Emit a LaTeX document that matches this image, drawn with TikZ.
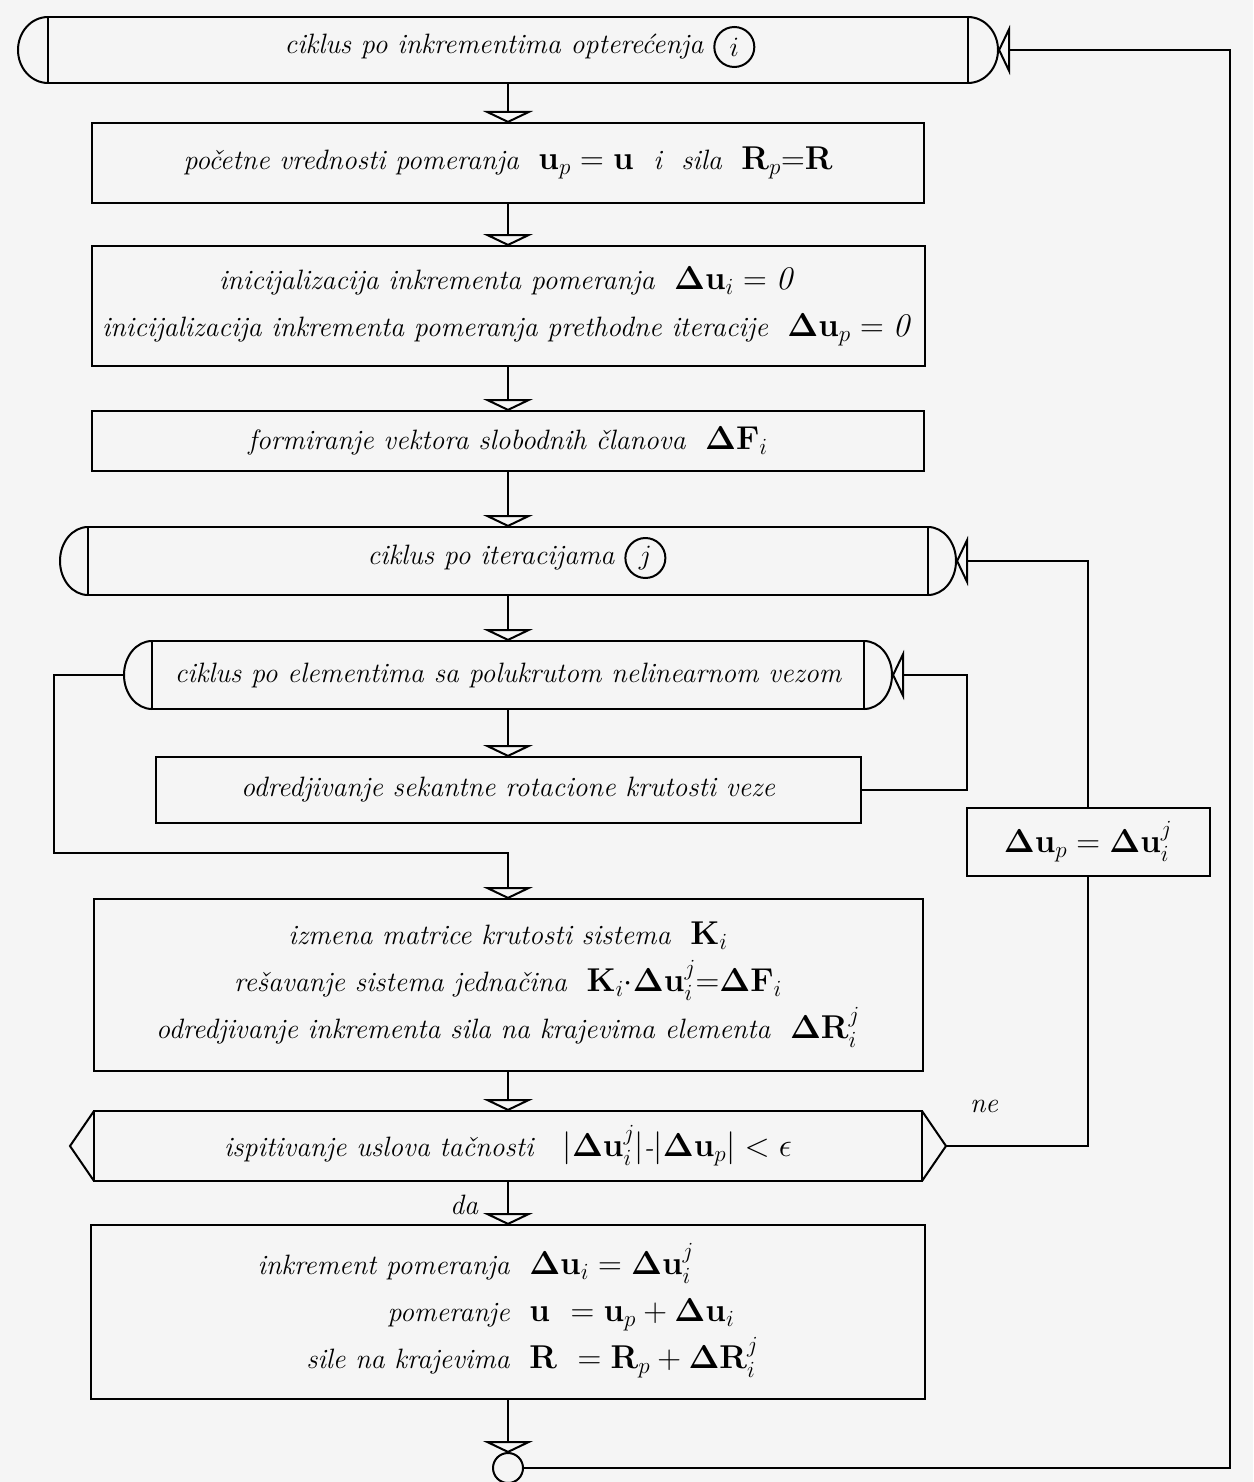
\RequirePackage{fix-cm}
\documentclass[tikz,border=0pt]{standalone}
\usepackage{amsmath,amssymb}
\usepackage{tikz}
\usetikzlibrary{positioning,arrows.meta,calc}

\newcommand{\dU}{\mathbf{\Delta u}}
\newcommand{\mth}[1]{{\fontsize{33}{47}\selectfont$#1$}}
\newcommand{\roundcaps}[3]{%
  \draw (#1.north west) arc[start angle=90, end angle=270, x radius=#2, y radius=#3];
  \draw (#1.north east) arc[start angle=90, end angle=-90, x radius=#2, y radius=#3];}
\newcommand{\pointcaps}[3]{%
  \draw (#1.north west) -- ++(-#2,#3) -- (#1.south west);
  \draw (#1.north east) -- ++(#2,#3) -- (#1.south east);}

\begin{document}
\begin{tikzpicture}[x=1pt, y=-1pt, line width=2pt,
  flow/.style={-{Triangle[open, width=50pt, length=12pt]}},
  box/.style={draw, inner sep=0pt, outer sep=0pt, align=center, font=\fontsize{28}{47}\selectfont\itshape},
  txt/.style={inner sep=0pt, font=\fontsize{28}{47}\selectfont\itshape},
  ring/.style={circle, draw, inner sep=0pt, outer sep=0pt, minimum size=40pt, font=\fontsize{28}{47}\selectfont}]
  \fill[black!4] (0,0) rectangle (1253,1482);
  \useasboundingbox (0,0) rectangle (1253,1482);

  \node[box, minimum width=920pt, minimum height=66pt] (loopi) at (508,50) {};
  \node[box, minimum width=832pt, minimum height=80pt, below=40pt of loopi] (init)
    {početne vrednosti pomeranja \ \mth{\mathbf{u}_p = \mathbf{u}} \ i \ sila \ \mth{\mathbf{R}_p{=}\mathbf{R}}};
  \node[box, minimum width=833pt, minimum height=120pt, below=43pt of init] (zero)
    {inicijalizacija inkrementa pomeranja \ \mth{\dU_i = \mathit{0}}\\
     inicijalizacija inkrementa pomeranja prethodne iteracije \ \mth{\dU_p = \mathit{0}}};
  \node[box, minimum width=832pt, minimum height=60pt, below=45pt of zero] (load)
    {formiranje vektora slobodnih članova \ \mth{\mathbf{\Delta F}_i}};
  \node[box, minimum width=840pt, minimum height=68pt, below=56pt of load] (loopj) {};
  \node[box, minimum width=712pt, minimum height=68pt, below=46pt of loopj] (loope)
    {ciklus po elementima sa polukrutom nelinearnom vezom};
  \node[box, minimum width=705pt, minimum height=66pt, below=48pt of loope] (secant)
    {odredjivanje sekantne rotacione krutosti veze};
  \node[box, minimum width=829pt, minimum height=172pt, below=76pt of secant] (solve)
    {izmena matrice krutosti sistema \ \mth{\mathbf{K}_i}\\
     rešavanje sistema jednačina \ \mth{\mathbf{K}_i{\cdot}\dU_i^j{=}\mathbf{\Delta F}_i}\\
     odredjivanje inkrementa sila na krajevima elementa \ \mth{\mathbf{\Delta R}_i^j}};
  \node[box, minimum width=828pt, minimum height=70pt, below=40pt of solve] (test)
    {ispitivanje uslova tačnosti \ \ \mth{|\dU_i^j|}-\mth{|\dU_p| < \epsilon}};
  \node[box, minimum width=834pt, minimum height=174pt, below=44pt of test] (update)
    {\begin{tabular}{r@{\ \ }l}
     inkrement pomeranja & \mth{\dU_i = \dU_i^j}\\
     pomeranje & \mth{\mathbf{u} \ = \mathbf{u}_p + \dU_i}\\
     sile na krajevima & \mth{\mathbf{R} \ = \mathbf{R}_p + \mathbf{\Delta R}_i^j}
     \end{tabular}};
  \node[ring, minimum size=30pt, below=54pt of update] (conn) {};
  \node[box, minimum width=243pt, minimum height=68pt] (dup) at (1088,842)
    {\mth{\dU_p = \dU_i^j}};

  \node[txt] (ti) at ($(loopi)+(-14,-3)$) {ciklus po inkrementima opterećenja};
  \node[ring, right=10pt of ti] (ci) {$i$};
  \node[txt] (tj) at ($(loopj)+(-17,-3)$) {ciklus po iteracijama};
  \node[ring, right=10pt of tj] (cj) {$j$};

  \roundcaps{loopi}{30pt}{33pt}
  \roundcaps{loopj}{28pt}{34pt}
  \roundcaps{loope}{28pt}{34pt}
  \pointcaps{test}{24}{35}
  \coordinate (loopi-in) at ($(loopi.east)+(30,0)$);
  \coordinate (loopj-in) at ($(loopj.east)+(28,0)$);
  \coordinate (loope-in) at ($(loope.east)+(28,0)$);
  \coordinate (loope-out) at ($(loope.west)+(-28,0)$);
  \coordinate (test-no) at ($(test.east)+(24,0)$);
  \coordinate (join) at ($(solve.north)+(0,-46)$);

  \node[txt] (ne) at ($(test-no)+(38,-40)$) {ne};
  \node[txt] (da) at ($(test.south)+(-44,24)$) {da};

  \draw[flow] (loopi) -- (init);
  \draw[flow] (init) -- (zero);
  \draw[flow] (zero) -- (load);
  \draw[flow] (load) -- (loopj);
  \draw[flow] (loopj) -- (loope);
  \draw[flow] (loope) -- (secant);
  \draw[flow] (secant.east) -- ++(106,0) |- (loope-in);
  \draw[flow] (loope-out) -- ++(-70,0) |- (join) -- (solve);
  \draw[flow] (solve) -- (test);
  \draw[flow] (test) -- (update);
  \draw (test-no) -| (dup.south);
  \draw[flow] (dup.north) |- (loopj-in);
  \draw[flow] (update) -- (conn);
  \draw[flow] (conn.east) -- ++(707,0) |- (loopi-in);
\end{tikzpicture}
\end{document}
